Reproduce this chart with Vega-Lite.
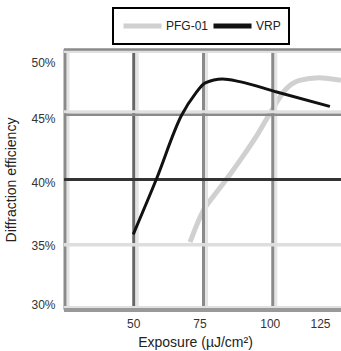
{
  "$schema": "https://vega.github.io/schema/vega-lite/v6.json",
  "width": 277,
  "height": 261,
  "autosize": "none",
  "padding": {"left": 64, "top": 49, "right": 0, "bottom": 41},
  "config": {
    "view": {"stroke": null},
    "font": "Liberation Sans",
    "axis": {"labelFont": "Liberation Sans", "titleFont": "Liberation Sans", "labelColor": "#333", "titleColor": "#222", "titleFontWeight": "normal"}
  },
  "datasets": {
    "curves": [
      {"series": "PFG-01", "exposure": 70.5, "eff": 35.2},
      {"series": "PFG-01", "exposure": 75, "eff": 37.5},
      {"series": "PFG-01", "exposure": 80, "eff": 39.0},
      {"series": "PFG-01", "exposure": 85, "eff": 40.4},
      {"series": "PFG-01", "exposure": 90, "eff": 41.9},
      {"series": "PFG-01", "exposure": 95, "eff": 43.5},
      {"series": "PFG-01", "exposure": 100, "eff": 45.3},
      {"series": "PFG-01", "exposure": 105, "eff": 46.9},
      {"series": "PFG-01", "exposure": 110, "eff": 47.6},
      {"series": "PFG-01", "exposure": 117, "eff": 47.8},
      {"series": "PFG-01", "exposure": 125, "eff": 47.6},
      {"series": "VRP", "exposure": 50, "eff": 35.8},
      {"series": "VRP", "exposure": 58.3, "eff": 40.0},
      {"series": "VRP", "exposure": 67.4, "eff": 44.9},
      {"series": "VRP", "exposure": 72.5, "eff": 46.6},
      {"series": "VRP", "exposure": 76, "eff": 47.4},
      {"series": "VRP", "exposure": 82.2, "eff": 47.7},
      {"series": "VRP", "exposure": 88.4, "eff": 47.5},
      {"series": "VRP", "exposure": 101.8, "eff": 46.7},
      {"series": "VRP", "exposure": 121, "eff": 45.6}
    ]
  },
  "layer": [
    {
      "data": {"name": "curves"},
      "transform": [{"filter": "datum.series == 'PFG-01'"}],
      "mark": {"type": "line", "strokeWidth": 5, "interpolate": "monotone", "clip": true},
      "encoding": {
        "x": {"field": "exposure", "type": "quantitative", "scale": {"domain": [25, 125], "nice": false, "zero": false},
          "axis": {"values": [50, 75, 100, 125], "domain": false, "ticks": false, "grid": false, "labelFontSize": 12, "labelPadding": 8,
            "labelOffset": {"condition": [{"test": "datum.value == 75", "value": -3}, {"test": "datum.value == 100", "value": -2}, {"test": "datum.value == 125", "value": -11}], "value": 0},
            "title": "Exposure (µJ/cm²)", "titleFontSize": 14, "titlePadding": 6, "titleX": 131}},
        "y": {"field": "eff", "type": "quantitative", "scale": {"domain": [30, 50], "nice": false, "zero": false},
          "axis": {"values": [30, 35, 40, 45, 50], "labelExpr": "datum.value + '%'", "domain": false, "ticks": false, "grid": false, "labelFontSize": 12, "labelPadding": 9,
            "labelOffset": {"condition": [{"test": "datum.value == 50", "value": 13}, {"test": "datum.value == 45", "value": 4}, {"test": "datum.value == 40", "value": 3}, {"test": "datum.value == 35", "value": 1}, {"test": "datum.value == 30", "value": -6}], "value": 0},
            "title": "Diffraction efficiency", "titleFontSize": 14, "titlePadding": 12}},
        "color": {"field": "series", "type": "nominal", "scale": {"domain": ["PFG-01", "VRP"], "range": ["#d0d0d0", "#111111"]},
          "legend": {"title": null, "orient": "none", "legendX": 49, "legendY": -41, "direction": "horizontal",
            "symbolType": "M-1,0H4.07", "symbolSize": 225, "symbolStrokeWidth": 5,
            "labelFontSize": 12, "labelColor": "#222", "labelOffset": 25, "columnPadding": -6, "padding": 8,
            "strokeColor": "#000", "fillColor": "#fff",
            "encode": {"legend": {"update": {"strokeWidth": {"value": 2}}}}}}
      }
    },
    {
      "data": {"values": [{"x": 25}, {"x": 50}, {"x": 75}, {"x": 100}]},
      "mark": {"type": "rule", "color": "#e4e4e4", "strokeWidth": 3, "xOffset": 4},
      "encoding": {"x": {"field": "x", "type": "quantitative"}}
    },
    {
      "data": {"values": [{"x": 25}, {"x": 75}, {"x": 100}]},
      "mark": {"type": "rule", "color": "#8a8a8a", "strokeWidth": 3, "xOffset": 1},
      "encoding": {"x": {"field": "x", "type": "quantitative"}}
    },
    {
      "data": {"values": [{"x": 50}]},
      "mark": {"type": "rule", "color": "#666666", "strokeWidth": 3, "xOffset": 0.5},
      "encoding": {"x": {"field": "x", "type": "quantitative"}}
    },
    {
      "data": {"values": [{"y": 50}]},
      "mark": {"type": "rule", "color": "#e0e0e0", "strokeWidth": 3, "yOffset": 2.5},
      "encoding": {"y": {"field": "y", "type": "quantitative"}}
    },
    {
      "data": {"values": [{"y": 45}, {"y": 30}]},
      "mark": {"type": "rule", "color": "#e0e0e0", "strokeWidth": 3, "yOffset": -2.5},
      "encoding": {"y": {"field": "y", "type": "quantitative"}}
    },
    {
      "data": {"values": [{"y": 35}]},
      "mark": {"type": "rule", "color": "#dedede", "strokeWidth": 3.5},
      "encoding": {"y": {"field": "y", "type": "quantitative"}}
    },
    {
      "data": {"values": [{"y": 50}, {"y": 45}]},
      "mark": {"type": "rule", "color": "#8a8a8a", "strokeWidth": 2.5, "yOffset": 0.5},
      "encoding": {"y": {"field": "y", "type": "quantitative"}}
    },
    {
      "data": {"values": [{"y": 30}]},
      "mark": {"type": "rule", "color": "#999999", "strokeWidth": 4},
      "encoding": {"y": {"field": "y", "type": "quantitative"}}
    },
    {
      "data": {"values": [{"y": 40}]},
      "mark": {"type": "rule", "color": "#333333", "strokeWidth": 3},
      "encoding": {"y": {"field": "y", "type": "quantitative"}}
    },
    {
      "data": {"name": "curves"},
      "transform": [{"filter": "datum.series == 'VRP'"}],
      "mark": {"type": "line", "strokeWidth": 3, "interpolate": "monotone", "clip": true},
      "encoding": {
        "x": {"field": "exposure", "type": "quantitative"},
        "y": {"field": "eff", "type": "quantitative"},
        "color": {"field": "series", "type": "nominal"}
      }
    }
  ]
}
